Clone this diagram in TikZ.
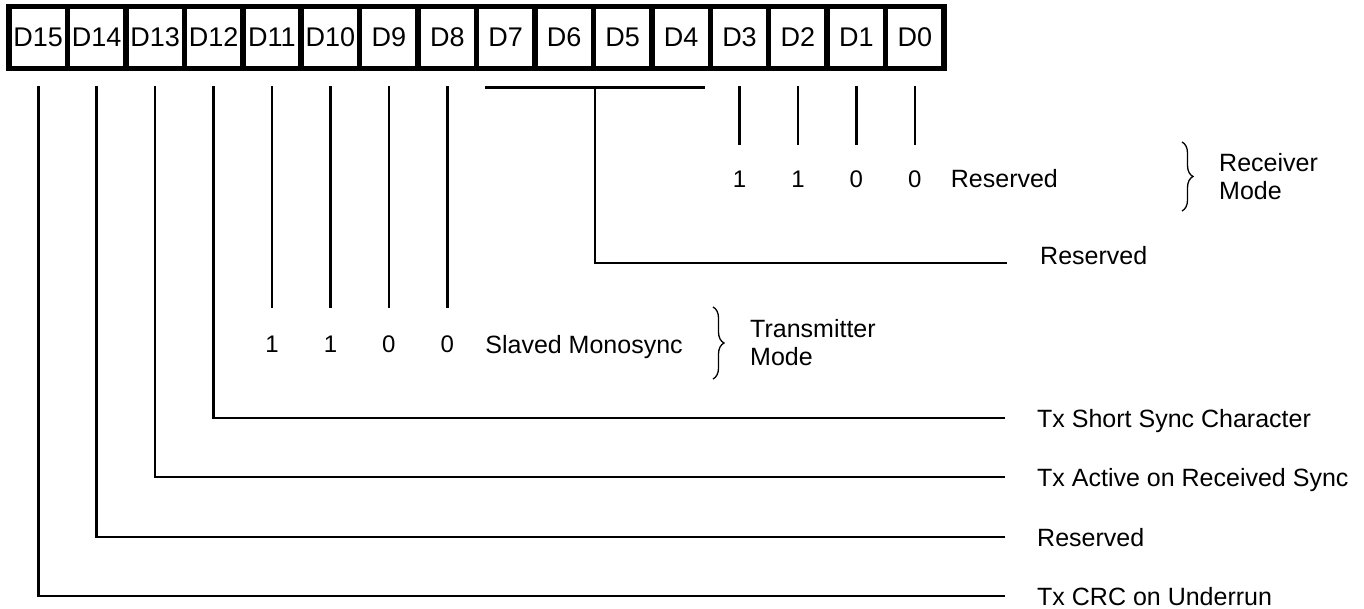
\documentclass[tikz,border=0pt]{standalone}
\usepackage{fontspec}
\setmainfont{Liberation Sans}
\usetikzlibrary{positioning,calc,decorations.pathreplacing}

\tikzset{
	bitcell/.style={draw, line width=5.5pt, minimum width=58.44pt, minimum height=62pt, inner sep=0pt, font=\fontsize{27}{30}\selectfont},
	wire/.style={line width=2.6pt},
	bitval/.style={inner sep=0pt, text height=17pt, text depth=0pt, font=\fontsize{24}{28}\selectfont},
	descr/.style={inner sep=0pt, anchor=west, align=left, font=\fontsize{25}{28}\selectfont},
	bitlabel/.style={descr, text height=18pt, text depth=0pt},
	modebrace/.style={line width=1.3pt, decorate, decoration={brace, amplitude=11pt}},
}

\begin{document}
\begin{tikzpicture}[x=1pt, y=-1pt]
	\useasboundingbox (0,0) rectangle (1364,609);
	\foreach \i in {0,...,15}
		\node[bitcell] (d\i) at ({9+58.44*(15.5-\i)}, 37.5) {D\i};
	\coordinate (rx-row) at (0,179);
	\coordinate (tx-row) at (0,344);
	\foreach \i/\v in {3/1,2/1,1/0,0/0}
		\node[bitval] (n\i) at (d\i |- rx-row) {\v};
	\foreach \i/\v in {11/1,10/1,9/0,8/0}
		\node[bitval] (n\i) at (d\i |- tx-row) {\v};
	\node[bitlabel, right=29pt of n0] (t-rx) {Reserved};
	\node[bitlabel, right=31pt of n8] (t-slv) {Slaved Monosync};
	\node[descr] (t-rxm) at (1219,177) {Receiver\\Mode};
	\node[descr] (t-txm) at (750,343) {Transmitter\\Mode};
	\draw[modebrace] ([xshift=-37pt,yshift=35pt]t-rxm.west) -- ([xshift=-37pt,yshift=-34pt]t-rxm.west);
	\draw[modebrace] ([xshift=-37pt,yshift=36pt]t-txm.west) -- ([xshift=-37pt,yshift=-36pt]t-txm.west);
	\node[bitlabel] (t-bus) at (1040,256) {Reserved};
	\node[bitlabel] (t12) at (1037,418) {Tx Short Sync Character};
	\node[bitlabel] (t13) at (1037,477) {Tx Active on Received Sync};
	\node[bitlabel] (t14) at (1037,537) {Reserved};
	\node[bitlabel] (t15) at (1037,596) {Tx CRC on Underrun};
	\foreach \i in {0,...,3}
		\draw[wire] ([yshift=-15pt]d\i.south) -- ([yshift=25pt]n\i.north);
	\foreach \i in {8,...,11}
		\draw[wire] ([yshift=-15pt]d\i.south) -- ([yshift=27pt]n\i.north);
	\foreach \i in {12,...,15}
		\draw[wire] ([yshift=-15pt]d\i.south) |- ([xshift=-32pt]t\i.west);
	\coordinate (bus-l) at ([xshift=11pt,yshift=-16pt]d7.south west);
	\coordinate (bus-r) at ([xshift=-8pt,yshift=-16pt]d4.south east);
	\draw[wire] (bus-l) -- (bus-r);
	\draw[wire] ($(bus-l)!0.5!(bus-r)$) |- ([xshift=-33pt,yshift=-7pt]t-bus.west);
\end{tikzpicture}
\end{document}
